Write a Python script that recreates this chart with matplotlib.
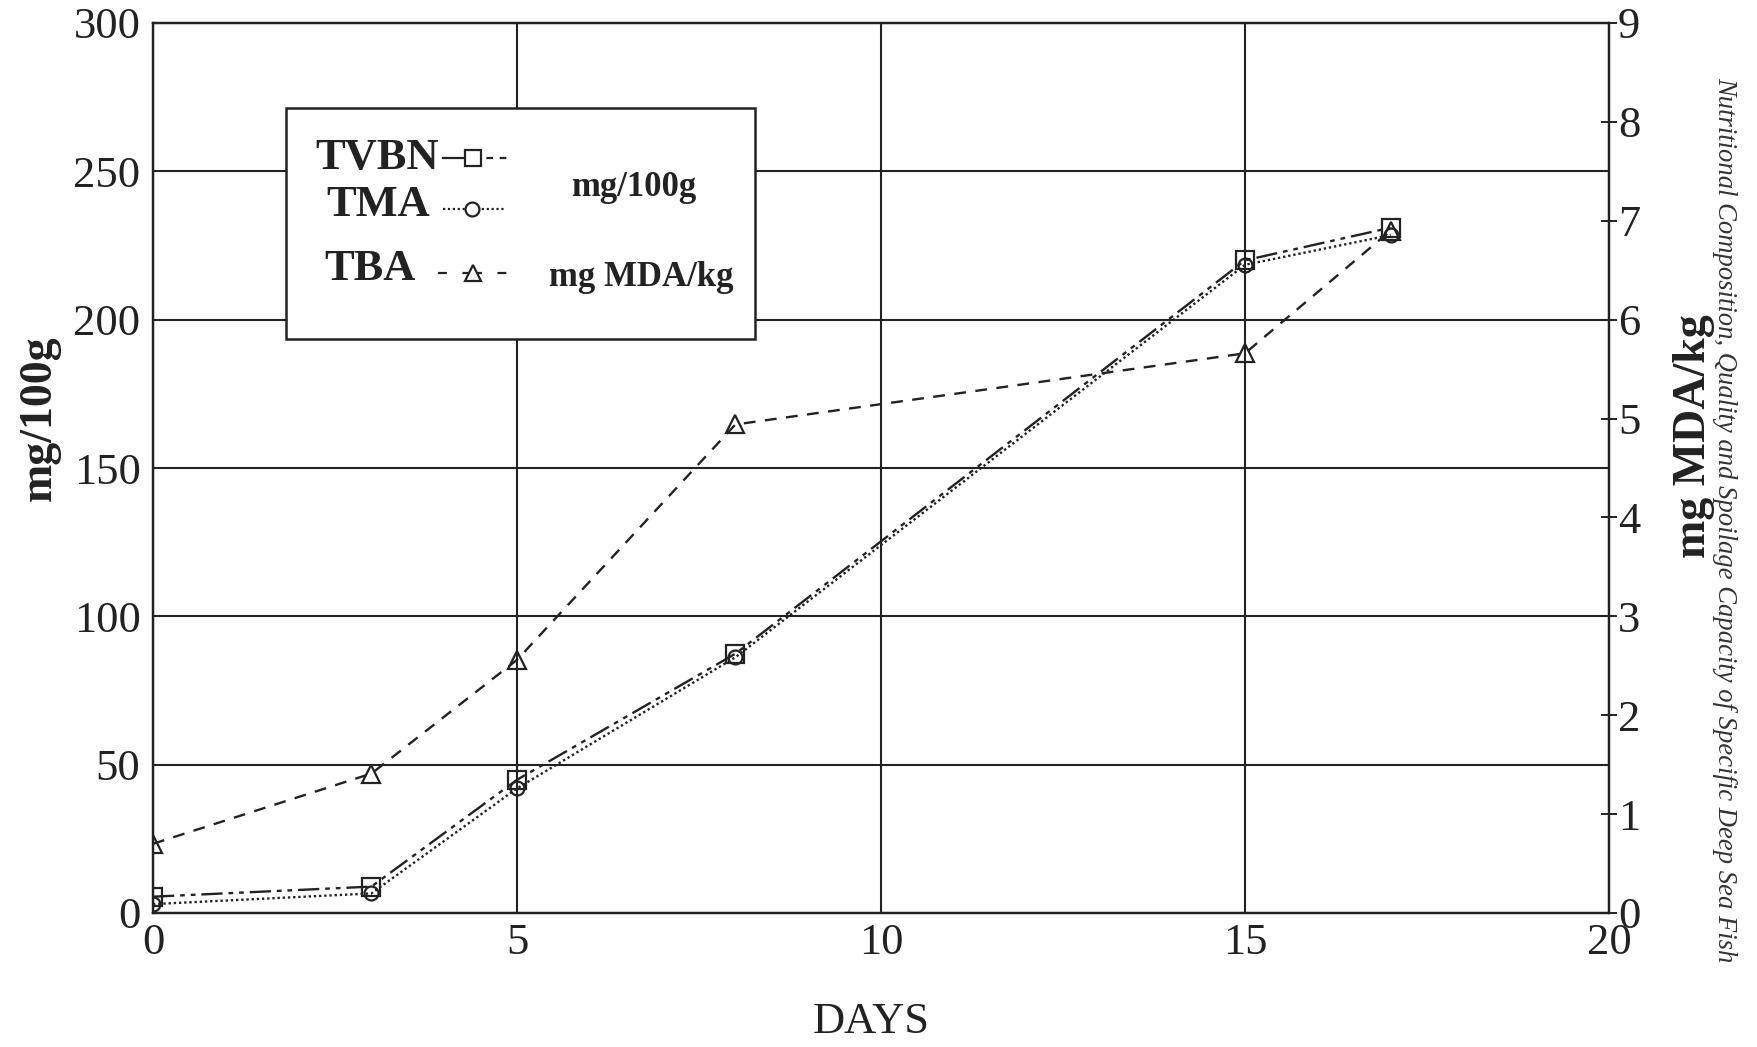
import matplotlib
matplotlib.use("Agg")
import matplotlib.pyplot as plt
from matplotlib.lines import Line2D
from matplotlib.patches import Rectangle

plt.rcParams['font.family'] = ['Liberation Serif', 'DejaVu Serif']

# data
days = [0, 3, 5, 8, 15, 17]
tvbn = [5.5, 8.9, 44.9, 87.4, 220, 231]       # mg/100g
tma = [3.0, 6.6, 42.0, 86.2, 218.5, 228.5]    # mg/100g
tba = [0.70, 1.41, 2.56, 4.94, 5.66, 6.9]     # mg MDA/kg

x_ticks = [0, 5, 10, 15, 20]
left_ticks = [0, 50, 100, 150, 200, 250, 300]
right_ticks = list(range(10))

INK = '#222222'
W, H = 1757, 1047

def fx(px):
    return px / W

def fy(py):
    return 1 - py / H

fig = plt.figure(figsize=(17.57, 10.47), dpi=100)
ax = fig.add_axes([fx(153), fy(913), fx(1609) - fx(153), fy(23) - fy(913)])

tvbn_style = (0, (9, 2.5, 2, 2.5, 2, 2.5))
tma_style = (0, (1, 1.2))
tba_style = (0, (5, 4))

ax.plot(days, tvbn, color=INK, lw=1.7, linestyle=tvbn_style,
        marker='s', ms=13, mfc='none', mec=INK, mew=1.6)
ax.plot(days, tma, color=INK, lw=1.7, linestyle=tma_style,
        marker='o', ms=10, mfc='none', mec=INK, mew=1.6)

ax.set_xlim(0, 20)
ax.set_ylim(0, 300)
ax.set_xticks(x_ticks)
ax.set_yticks(left_ticks)
ax.grid(True, color=INK, lw=1.5)
ax.set_axisbelow(True)
ax.tick_params(axis='both', length=0, labelsize=32, colors=INK)
ax.tick_params(axis='y', pad=9)
ax.tick_params(axis='x', pad=7)
for s in ax.spines.values():
    s.set_linewidth(1.6)
    s.set_color(INK)

ax2 = ax.twinx()
ax2.plot(days, tba, color=INK, lw=1.7, linestyle=tba_style,
         marker='^', ms=13, mfc='none', mec=INK, mew=1.6)
ax2.set_ylim(0, 9)
ax2.set_yticks(right_ticks)
ax2.tick_params(axis='y', direction='inout', length=11, width=1.4,
                pad=1, labelsize=32, colors=INK)
for s in ax2.spines.values():
    s.set_linewidth(1.6)
    s.set_color(INK)

# axis titles
fig.text(fx(871), fy(1022), 'DAYS', fontsize=32, ha='center', va='center', color=INK)
fig.text(fx(40), fy(418), 'mg/100g', fontsize=33, fontweight='bold',
         rotation=90, ha='center', va='center', color=INK)
fig.text(fx(1694), fy(436), 'mg MDA/kg', fontsize=33, fontweight='bold',
         rotation=90, ha='center', va='center', color=INK)
fig.text(fx(1725), fy(520),
         'Nutritional Composition, Quality and Spoilage Capacity of Specific Deep Sea Fish',
         fontsize=19.2, style='italic', rotation=-90, ha='center', va='center', color='#333333')

# hand-made legend box
box = Rectangle((fx(286), fy(339)), fx(755) - fx(286), fy(108) - fy(339),
                transform=fig.transFigure, fill=True, facecolor='white',
                edgecolor=INK, lw=1.8, zorder=5)
fig.add_artist(box)

# label, text centre, sample line (left style, right style), marker
entries = [
    ('TVBN', 377, 158, 443, 510, 473, '-', (0, (3, 3)), 's', 12),
    ('TMA', 378, 205, 443, 505, 472, tma_style, tma_style, 'o', 10),
    ('TBA', 370, 269, 438, 510, 473, (0, (4, 7)), (0, (4, 7)), '^', 12),
]
for label, tx, ty, x1, x2, xm, ls_l, ls_r, mk, ms in entries:
    fig.text(fx(tx), fy(ty), label, fontsize=32, fontweight='bold',
             ha='center', va='center', color=INK, zorder=6)
    ly = ty if label == 'TVBN' else ty + 4
    fig.add_artist(Line2D([fx(x1), fx(xm)], [fy(ly), fy(ly)], color=INK, lw=1.6,
                          linestyle=ls_l, transform=fig.transFigure, zorder=6))
    fig.add_artist(Line2D([fx(xm), fx(x2)], [fy(ly), fy(ly)], color=INK, lw=1.6,
                          linestyle=ls_r, transform=fig.transFigure, zorder=6))
    fig.add_artist(Line2D([fx(xm)], [fy(ly)], marker=mk, ms=ms, mfc='white',
                          mec=INK, mew=1.6, linestyle='none',
                          transform=fig.transFigure, zorder=7))

fig.text(fx(634), fy(188), 'mg/100g', fontsize=25, fontweight='bold',
         ha='center', va='center', color=INK, zorder=6)
fig.text(fx(641), fy(278), 'mg MDA/kg', fontsize=25, fontweight='bold',
         ha='center', va='center', color=INK, zorder=6)

fig.savefig('out.png', dpi=100, facecolor='white')
